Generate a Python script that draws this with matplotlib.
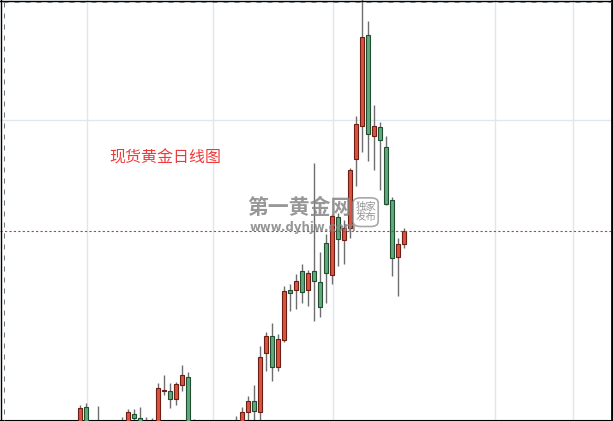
import matplotlib.pyplot as plt
from matplotlib.lines import Line2D
from matplotlib.patches import FancyBboxPatch
import numpy as np

plt.rcParams['font.family'] = ['Noto Sans CJK SC', 'DejaVu Sans']

# daily gold candles (visible window, oldest first)
opens = [1522, 1543, 1515, 1526, 1510, 1517, 1524, 1516, 1525, 1536, 1532, 1518, 1526, 1518,
         1559.2, 1558.7, 1550.7, 1564.7, 1572.7, 1522, 1512, 1518, 1509, 1502, 1510, 1516, 1511,
         1520, 1537.7, 1548.7, 1538.3, 1597.3, 1614, 1583.3, 1610.3, 1659.7, 1659.7, 1678.7,
         1659.7, 1678.7, 1667.7, 1706.7, 1674.7, 1733.3, 1710, 1722.3, 1790.7, 1824.3, 1915,
         1814.3, 1823, 1803, 1749.7, 1692.7, 1705.7]
highs = [1545.3, 1547, 1520, 1544, 1522, 1527, 1528, 1533, 1541, 1541, 1542.7, 1532.7, 1531.7, 1567,
         1575.3, 1567, 1568, 1585, 1577.7, 1531.3, 1524, 1522, 1513, 1515, 1520, 1522, 1534,
         1542.7, 1554, 1565, 1604, 1618, 1627, 1616, 1664, 1666, 1675.7, 1685.7,
         1679.7, 1786.7, 1697.7, 1716, 1736, 1737, 1730, 1782, 1834, 1955, 1929.3,
         1845, 1827.7, 1814, 1753, 1711.7, 1721.7]
lows = [1518, 1514, 1500, 1505, 1506, 1512, 1512, 1513, 1520, 1526, 1514, 1515, 1514, 1514,
        1554.7, 1542.3, 1544.7, 1559, 1518, 1508, 1508, 1505, 1498, 1499, 1506, 1507, 1508,
        1515, 1525, 1525, 1525, 1579.3, 1569.3, 1579.3, 1608.3, 1639.3, 1641.3, 1647.3,
        1644.3, 1629.3, 1633.3, 1647.3, 1665.7, 1684.3, 1686, 1712.3, 1764.5, 1798.3, 1789.3,
        1780, 1760, 1745, 1674.3, 1654.3, 1701.7]
closes = [1542, 1520, 1505, 1510, 1518, 1524, 1516, 1525, 1538, 1531.7, 1518, 1526, 1517, 1562,
          1560.2, 1551.3, 1566, 1574.7, 1522, 1512, 1518, 1509, 1502, 1510, 1516, 1511, 1520,
          1537.7, 1548.7, 1538.7, 1593, 1614, 1583.3, 1611, 1658.7, 1657.3, 1668.7, 1658.3,
          1676.7, 1668.7, 1643.3, 1676.7, 1734, 1711, 1722.3, 1780, 1825.7, 1913, 1815.7,
          1824, 1809.7, 1746.3, 1691.7, 1705.7, 1719]
month_lines = [1.17, 22.17, 42.17, 69.17, 82.17]
level_lines = [1830]
last_price = closes[-1]

o = np.array(opens); h = np.array(highs); l = np.array(lows); c = np.array(closes)
idx = np.arange(len(o))
up = c >= o

fig = plt.figure(figsize=(6.13, 4.21), dpi=100)
ax = fig.add_axes([0, 0, 1, 1])
ax.set_xlim(-13.33, 88.83)
ax.set_ylim(1529, 1950)
ax.set_xticks([]); ax.set_yticks([])
for s in ['top', 'left', 'right']:
    ax.spines[s].set_visible(False)
ax.spines['bottom'].set_linewidth(1.5)
ax.spines['bottom'].set_color('black')

for m in month_lines:
    ax.axvline(m, color='#dfe7ee', lw=1, zorder=0)
for lv in level_lines:
    ax.axhline(lv, color='#dfe7ee', lw=1, zorder=0)

ax.vlines(idx, l, h, color='#6e6e6e', lw=1, zorder=2)
bottoms = np.minimum(o, c)
heights = np.maximum(np.abs(c - o), 1.0)
ax.bar(idx[up], heights[up], bottom=bottoms[up], width=0.58, color='#dc5340',
       edgecolor='#6e1d14', lw=0.8, zorder=3)
ax.bar(idx[~up], heights[~up], bottom=bottoms[~up], width=0.58, color='#62a97d',
       edgecolor='#1f4f30', lw=0.8, zorder=3)

ax.axhline(last_price, color='#b3473a', lw=0.8, linestyle=(0, (2, 2)), zorder=4)

ax.text(0.179, 0.625, '现货黄金日线图', transform=ax.transAxes, color='#ef3a3c',
        fontsize=11.5, ha='left', va='center')

# watermark
ax.text(0.403, 0.507, '第一黄金网', transform=ax.transAxes, color='#858585', alpha=0.85,
        fontsize=15, fontweight='heavy', ha='left', va='center', zorder=6)
ax.text(0.407, 0.459, 'www.dyhjw.com', transform=ax.transAxes, color='#858585', alpha=0.85,
        fontsize=8.5, fontweight='bold', ha='left', va='center', zorder=6,
        family=['DejaVu Sans'])
box = FancyBboxPatch((0.579, 0.465), 0.035, 0.062, boxstyle='round,pad=0.003,rounding_size=0.012',
                     transform=ax.transAxes, fc='white', ec='#999999', lw=1.2, alpha=0.85, zorder=6)
ax.add_patch(box)
ax.text(0.5965, 0.496, '独家\n发布', transform=ax.transAxes, color='#888888', alpha=0.9,
        fontsize=7.5, ha='center', va='center', linespacing=1.05, zorder=7)

# outer frame
W, H = 613, 421
def fline(x0, y0, x1, y1, **kw):
    fig.add_artist(Line2D([x0 / W, x1 / W], [1 - y0 / H, 1 - y1 / H], transform=fig.transFigure, **kw))

fline(0.5, 0, 0.5, H, color='black', lw=1)
fline(0, 0.5, W, 0.5, color='black', lw=1)
fline(611.5, 0, 611.5, H, color='black', lw=2)
fline(3.5, 2, 3.5, H, color='#6f7a82', lw=0.72, linestyle=(0, (5, 6)))
fline(3, 1.5, 611, 1.5, color='#6f7a82', lw=0.72, linestyle=(0, (5, 6)))

fig.savefig('out.png', dpi=100)
